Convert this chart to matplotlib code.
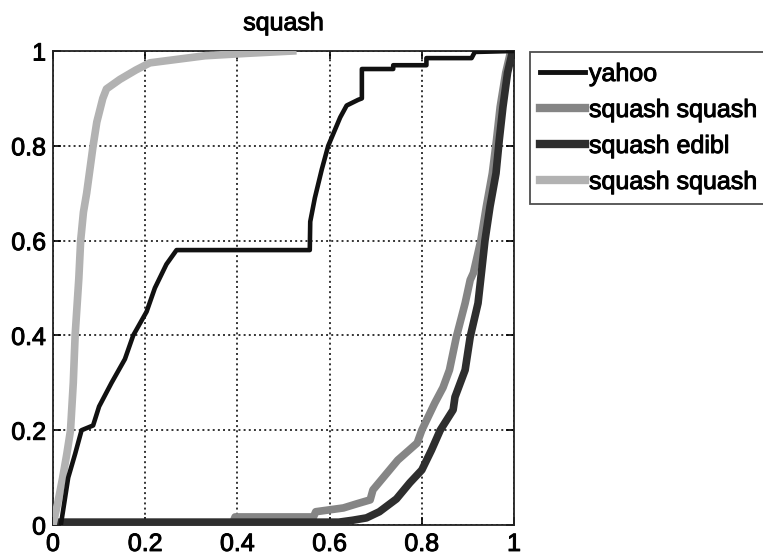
import matplotlib
matplotlib.use("Agg")
import matplotlib.pyplot as plt
import matplotlib.patheffects as pe

# courbes
yahoo_x = [0.017, 0.025, 0.033, 0.048, 0.062, 0.087, 0.1, 0.127, 0.156, 0.174, 0.203, 0.221, 0.246,
           0.268, 0.557, 0.558, 0.568, 0.583, 0.597, 0.623, 0.637, 0.662, 0.67, 0.67, 0.738, 0.738,
           0.81, 0.81, 0.908, 0.915, 1.0]
yahoo_y = [0.0, 0.05, 0.1, 0.15, 0.2, 0.21, 0.25, 0.3, 0.35, 0.4, 0.45, 0.5, 0.55,
           0.58, 0.58, 0.64, 0.69, 0.75, 0.8, 0.86, 0.885, 0.897, 0.9, 0.962, 0.962, 0.97,
           0.97, 0.985, 0.985, 0.998, 1.0]

squash1_x = [0.0, 0.39, 0.395, 0.565, 0.57, 0.63, 0.66, 0.688, 0.694, 0.73, 0.748, 0.79, 0.8,
             0.828, 0.846, 0.86, 0.875, 0.894, 0.905, 0.912, 0.928, 0.94, 0.953, 0.962, 0.97,
             0.982, 0.993]
squash1_y = [0.005, 0.005, 0.017, 0.017, 0.028, 0.036, 0.045, 0.053, 0.074, 0.116, 0.137, 0.173, 0.2,
             0.257, 0.29, 0.327, 0.397, 0.468, 0.517, 0.532, 0.6, 0.672, 0.742, 0.812, 0.882,
             0.954, 1.0]

edibl_x = [0.0, 0.62, 0.65, 0.68, 0.708, 0.745, 0.774, 0.8, 0.821, 0.84, 0.868, 0.872, 0.894,
           0.905, 0.922, 0.93, 0.937, 0.948, 0.961, 0.968, 0.976, 0.986, 0.997]
edibl_y = [0.006, 0.006, 0.01, 0.015, 0.028, 0.055, 0.089, 0.116, 0.158, 0.2, 0.243, 0.27, 0.327,
           0.397, 0.468, 0.538, 0.6, 0.672, 0.742, 0.812, 0.882, 0.954, 1.0]

squash2_x = [0.0, 0.011, 0.021, 0.03, 0.038, 0.044, 0.048, 0.056, 0.06, 0.066, 0.073, 0.087, 0.095,
             0.108, 0.116, 0.145, 0.18, 0.21, 0.29, 0.33, 0.42, 0.52]
squash2_y = [0.0, 0.05, 0.1, 0.15, 0.2, 0.3, 0.4, 0.52, 0.6, 0.66, 0.7, 0.8, 0.85,
             0.9, 0.92, 0.94, 0.96, 0.975, 0.985, 0.99, 0.995, 1.0]

ticks = [0, 0.2, 0.4, 0.6, 0.8, 1]
tick_labels = ["0", "0.2", "0.4", "0.6", "0.8", "1"]
labels = ["yahoo", "squash squash", "squash edibl", "squash squash"]


def main():
    plt.rcParams['font.family'] = ['Liberation Sans', 'DejaVu Sans']
    # texte un peu plus épais, comme le scan d'origine
    plt.rcParams['path.effects'] = []
    epais = [pe.withStroke(linewidth=0.7, foreground='black')]

    fig = plt.figure(figsize=(7.63, 5.6), dpi=100)
    ax = fig.add_axes([53 / 763, 1 - 525 / 560, 461 / 763, 474 / 560])

    ax.plot(squash1_x, squash1_y, color='#858585', lw=5.5, label=labels[1], zorder=2)
    ax.plot(edibl_x, edibl_y, color='#2e2e2e', lw=5.5, label=labels[2], zorder=3)
    ax.plot(squash2_x, squash2_y, color='#b2b2b2', lw=5.5, label=labels[3], zorder=4)
    ax.plot(yahoo_x, yahoo_y, color='#111111', lw=3.3, label=labels[0], zorder=5)

    ax.set_xlim(0, 1)
    ax.set_ylim(0, 1)
    ax.set_xticks(ticks)
    ax.set_xticklabels(tick_labels)
    ax.set_yticks(ticks)
    ax.set_yticklabels(tick_labels)
    ax.tick_params(direction='in', length=6, width=1.2, top=True, right=True,
                   labelsize=18, pad=5)
    ax.grid(True, linestyle=':', color='#333333', lw=1.4)
    for s in ax.spines.values():
        s.set_linewidth(1.3)
        s.set_color('#222222')
    titre = ax.set_title("squash", fontsize=18, pad=15)

    # ordre de la légende comme sur l'original
    h, l = ax.get_legend_handles_labels()
    order = [3, 0, 1, 2]
    leg = ax.legend([h[i] for i in order], [l[i] for i in order], loc='upper left',
                    bbox_to_anchor=(530 / 763, 1 - 52 / 560), bbox_transform=fig.transFigure,
                    borderaxespad=0, fontsize=18, frameon=True, fancybox=False,
                    edgecolor='#222222', handlelength=1.8, handletextpad=0.16,
                    labelspacing=0.48, borderpad=0.4)
    leg.get_frame().set_linewidth(1.3)
    for i, line in enumerate(leg.get_lines()):
        line.set_linewidth(3.5 if i == 0 else 6)

    for t in ax.get_xticklabels() + ax.get_yticklabels() + leg.get_texts() + [titre]:
        t.set_path_effects(epais)

    fig.savefig("out.png", dpi=100)


if __name__ == "__main__":
    main()
